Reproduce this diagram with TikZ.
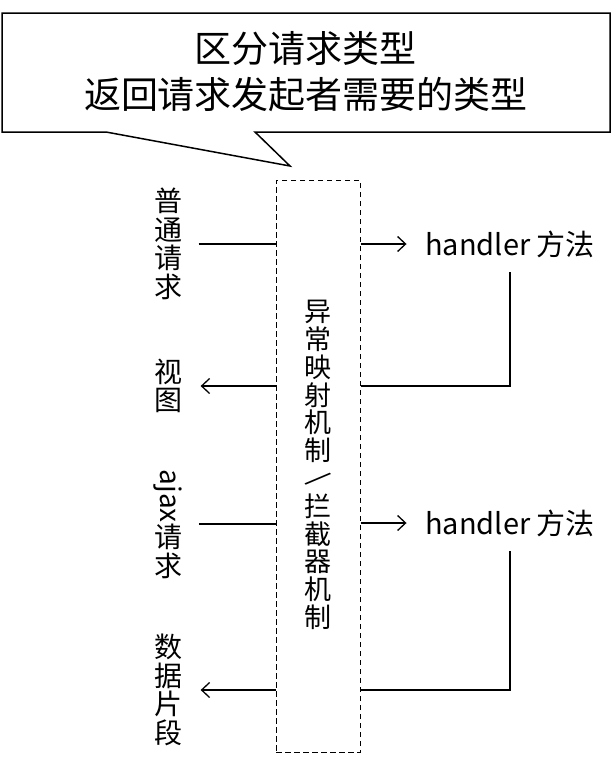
\documentclass[tikz,border=0pt]{standalone}
\usepackage{fontspec}
\setmainfont{Noto Sans CJK SC}
\usepackage{graphicx}
\usetikzlibrary{positioning, arrows.meta, calc}
\tikzset{
every picture/.style={line width=1.3pt, >={Straight Barb[length=8pt,width=15pt]}},
%%%%%%%%%%  Node styles
side_text/.style={inner sep=0pt, align=center, font=\fontsize{28}{28.7}\selectfont},
mid_text/.style={inner sep=0pt, align=center, font=\fontsize{27}{27.8}\selectfont},
title_text/.style={inner sep=0pt, align=center, font=\fontsize{37}{46}\selectfont},
handler_text/.style={inner sep=0pt, font=\fontsize{29}{29}\selectfont},
%%%%%%% box styles
dash_box/.style={draw, line width=1pt, dash pattern=on 5.5pt off 3.5pt,
                 minimum width=84pt, minimum height=572pt, inner sep=0pt},
callout_line/.style={line width=1.5pt, line join=miter}
}
%% slash set sideways in the vertical text
\newcommand{\sideslash}{\raisebox{0.05em}[0pt][0pt]{\rotatebox[origin=c]{-50}{/}}}

\begin{document}
\begin{tikzpicture}[x=1pt,y=-1pt]
\useasboundingbox (0,0) rectangle (614,764);
%% callout on top
\coordinate (tail_l) at (106,132);
\coordinate (tail_r) at (255,132);
\coordinate (tail_tip) at (290,166);
\draw[callout_line] (2,13) -- (610,13) -- (610,132) -- (tail_r) -- (tail_tip)
	-- (tail_l) -- (2,132) -- cycle;
\node[title_text] (note) at (306,72) {区分请求类型\\返回请求发起者需要的类型};
%% dashed box in the middle
\node[dash_box] (mapper) at (318,466) {};
\node[mid_text] (mapper_text) at (318,465)
	{异\\常\\映\\射\\机\\制\\\sideslash\\拦\\截\\器\\机\\制};
%% left column
\node[side_text] (plain) at (168,244) {普\\通\\请\\求};
\node[side_text] (view) at (168,386) {视\\图};
\node[side_text] (ajax) at (168,524) {\rotatebox{-90}{ajax}\\请\\求};
\node[side_text] (data) at (168,690) {数\\据\\片\\段};
%% right column
\node[handler_text] (h1) at (510,244) {handler 方法};
\node[handler_text] (h2) at (510,523) {handler 方法};
%% normal request
\draw[shorten <=16pt] (plain.east) -- (plain.east -| mapper.west);
\draw[->, shorten >=18pt] (mapper.east |- h1.west) -- (h1.west);
\draw[shorten <=14pt] (h1.south) |- (mapper.east |- view.east);
\draw[->, shorten >=18pt] (mapper.west |- view.east) -- (view.east);
%% ajax request
\draw[shorten <=16pt] (ajax.east) -- (ajax.east -| mapper.west);
\draw[->, shorten >=18pt] (mapper.east |- h2.west) -- (h2.west);
\draw[shorten <=14pt] (h2.south) |- (mapper.east |- data.east);
\draw[->, shorten >=18pt] (mapper.west |- data.east) -- (data.east);
\end{tikzpicture}
\end{document}
